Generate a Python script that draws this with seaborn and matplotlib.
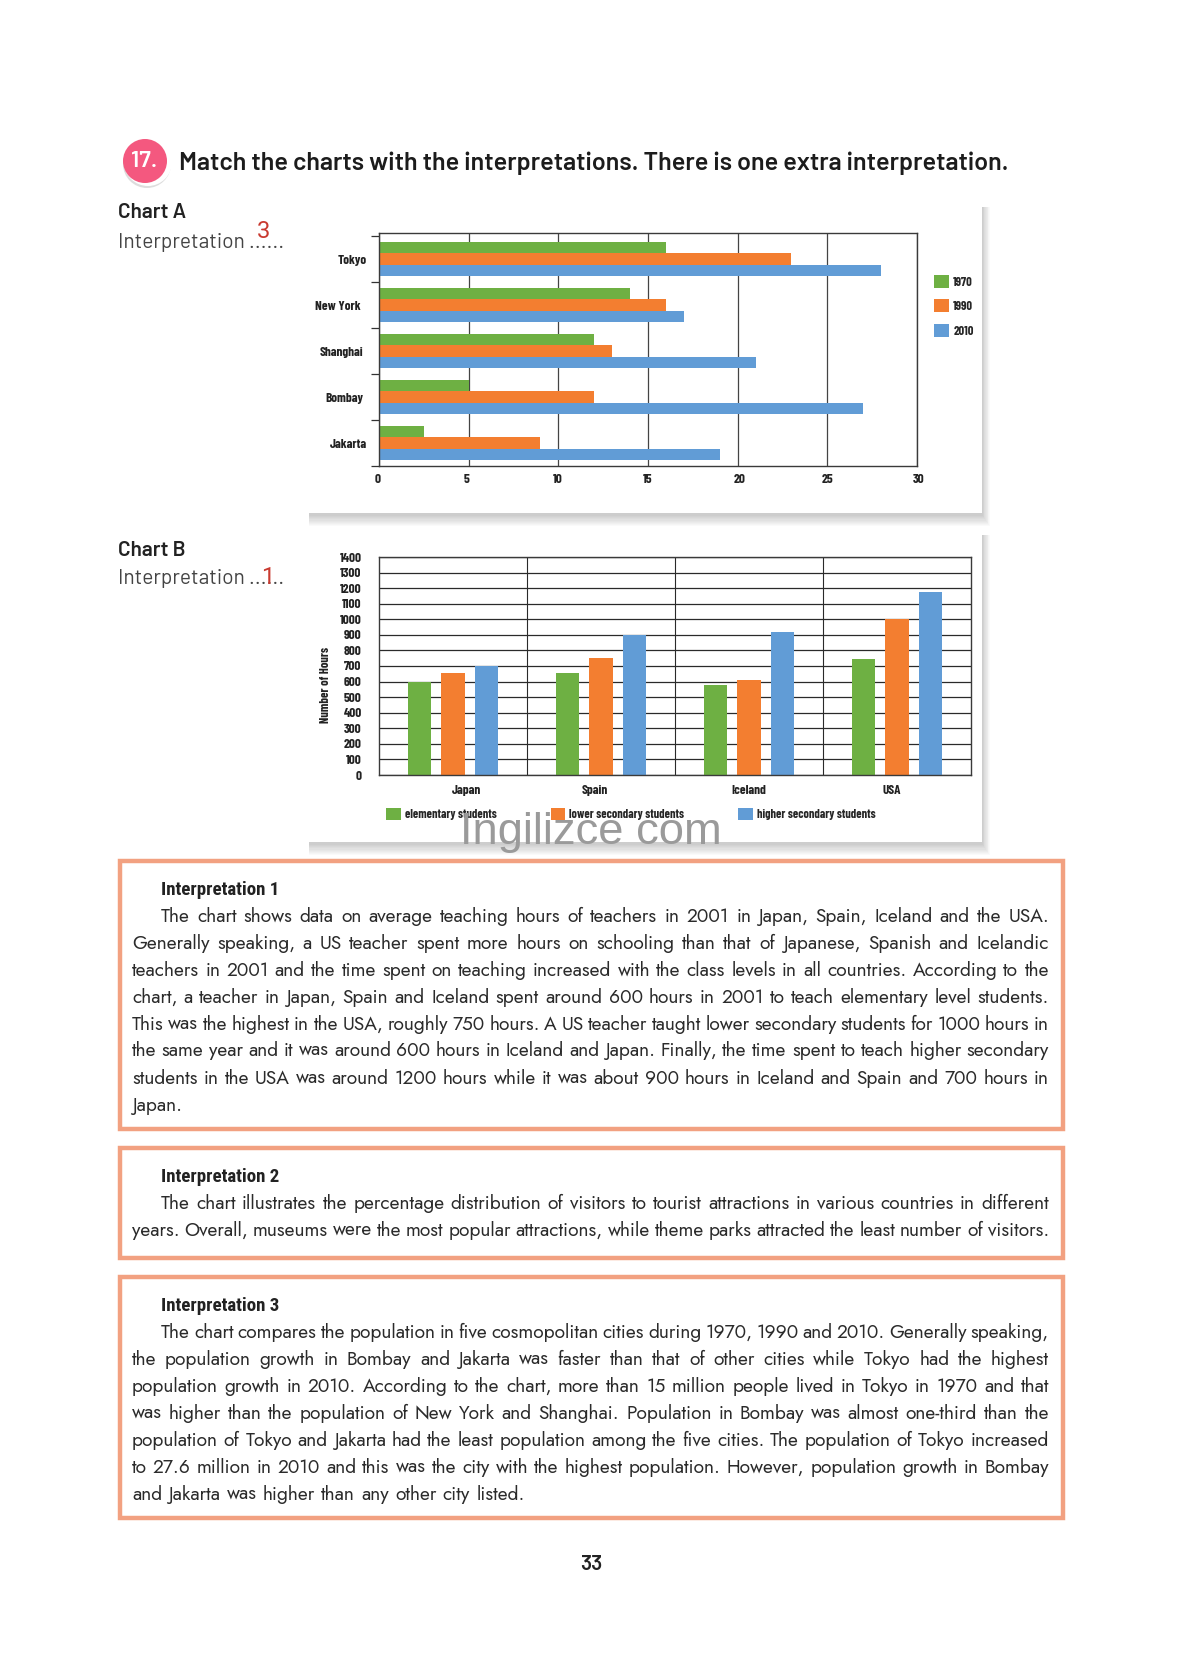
import matplotlib
matplotlib.use('Agg')
import matplotlib.pyplot as plt
import matplotlib.transforms as mtrans
from matplotlib.patches import Rectangle, Circle
import pandas as pd
import seaborn as sns

W, H = 1182, 1654

# --- datos de los graficos ---
ciudades = ['Tokyo', 'New York', 'Shanghai', 'Bombay', 'Jakarta']
anios = ['1970', '1990', '2010']
pob_1970 = [16, 14, 12, 5, 2.5]
pob_1990 = [23, 16, 13, 12, 9]
pob_2010 = [28, 17, 21, 27, 19]

paises = ['Japan', 'Spain', 'Iceland', 'USA']
niveles = ['elementary students', 'lower secondary students', 'higher secondary students']
horas_elem = [600, 655, 575, 745]
horas_lower = [655, 750, 610, 1000]
horas_higher = [700, 900, 920, 1175]

colores = ['#6EB043', '#F37E30', '#619CD6']

# --- textos de la pagina ---
titulo = 'Match the charts with the interpretations. There is one extra interpretation.'
texto_1 = [
    'The chart shows data on average teaching hours of teachers in 2001 in Japan, Spain, Iceland and the USA.',
    'Generally speaking, a US teacher spent more hours on schooling than that of Japanese, Spanish and Icelandic',
    'teachers in 2001 and the time spent on teaching increased with the class levels in all countries. According to the',
    'chart, a teacher in Japan, Spain and Iceland spent around 600 hours in 2001 to teach elementary level students.',
    'This was the highest in the USA, roughly 750 hours. A US teacher taught lower secondary students for 1000 hours in',
    'the same year and it was around 600 hours in Iceland and Japan. Finally, the time spent to teach higher secondary',
    'students in the USA was around 1200 hours while it was about 900 hours in Iceland and Spain and 700 hours in',
    'Japan.',
]
texto_2 = [
    'The chart illustrates the percentage distribution of visitors to tourist attractions in various countries in different',
    'years. Overall, museums were the most popular attractions, while theme parks attracted the least number of visitors.',
]
texto_3 = [
    'The chart compares the population in five cosmopolitan cities during 1970, 1990 and 2010. Generally speaking,',
    'the population growth in Bombay and Jakarta was faster than that of other cities while Tokyo had the highest',
    'population growth in 2010. According to the chart, more than 15 million people lived in Tokyo in 1970 and that',
    'was higher than the population of New York and Shanghai. Population in Bombay was almost one-third than the',
    'population of Tokyo and Jakarta had the least population among the five cities. The population of Tokyo increased',
    'to 27.6 million in 2010 and this was the city with the highest population. However, population growth in Bombay',
    'and Jakarta was higher than any other city listed.',
]

sns.set_style('white')
CONDENSADA = ['Barlow Condensed', 'Roboto', 'DejaVu Sans']
BARLOW = ['Barlow', 'Roboto', 'DejaVu Sans']
CABECERA = ['Roboto Condensed', 'Roboto', 'DejaVu Sans']
plt.rcParams['font.family'] = ['Jost', 'Lato', 'DejaVu Sans']

fig = plt.figure(figsize=(W / 100, H / 100), dpi=100, facecolor='white')
page = fig.add_axes([0, 0, 1, 1], zorder=-1)
page.set_xlim(0, W)
page.set_ylim(H, 0)
page.axis('off')
renderer = fig.canvas.get_renderer()


def ejes_px(x0, y0, x1, y1):
    return fig.add_axes([x0 / W, 1 - y1 / H, (x1 - x0) / W, (y1 - y0) / H])


def panel(x0, y0, x1, y1):
    # sombra suave abajo a la derecha
    for i in range(10):
        d = 10 - i
        page.add_patch(Rectangle((x0 + 1, y0 + 2), x1 - x0 + d * 0.8 - 1, y1 - y0 + d * 1.1,
                                 color='#000000', alpha=0.02, lw=0))
    page.add_patch(Rectangle((x0, y0), x1 - x0, y1 - y0, color='white', lw=0))


def parrafo(lineas, ys, x_izq=132, x_der=1049, sangria=161, size=13.8):
    for n, (linea, y) in enumerate(zip(lineas, ys)):
        x = sangria if n == 0 else x_izq
        palabras = linea.split(' ')
        items = [page.text(x, y + 6, p, fontsize=size, color='#2b2b2b', va='baseline', ha='left')
                 for p in palabras]
        anchos = [t.get_window_extent(renderer).width for t in items]
        # la ultima linea solo se justifica si ya llega casi al margen
        if n < len(lineas) - 1 or sum(anchos) > 0.8 * (x_der - x):
            hueco = (x_der - x - sum(anchos)) / (len(palabras) - 1)
        else:
            hueco = size * 0.45
        for t, a in zip(items, anchos):
            t.set_x(x)
            x += a + hueco


def caja(y0, y1, nombre, y_nombre, lineas, ys):
    page.add_patch(Rectangle((120, y0), 943, y1 - y0, fill=False, ec='#F2A181', lw=3.2))
    page.text(161, y_nombre, nombre, fontsize=13.6, fontweight='bold', family=CABECERA,
              color='#222222', va='center')
    parrafo(lineas, ys)


def mover(etiquetas, dx):
    for t, d in zip(etiquetas, dx):
        t.set_transform(t.get_transform() + mtrans.ScaledTranslation(d / 100, 0, fig.dpi_scale_trans))


# --- Encabezado ---
page.add_patch(Circle((147, 164), 24, color='#DDDDDD', lw=0))
page.add_patch(Circle((148, 162), 24, color='white', lw=0))
page.add_patch(Circle((145, 161), 22, color='#F4587F', lw=0))
page.text(144, 161, '17.', fontsize=17, fontweight='semibold', family=BARLOW, color='white',
          ha='center', va='center')
page.text(179, 163, titulo, fontsize=18.1, fontweight='semibold', family=BARLOW,
          color='#1c1c1c', va='center')

for nombre, num, y, xn, yn in [('Chart A', '3', 213, 263, 231), ('Chart B', '1', 550, 268, 577)]:
    page.text(118, y, nombre, fontsize=15, fontweight='semibold', family=BARLOW,
              color='#222222', va='center')
    page.text(118, y + 29, 'Interpretation ......', fontsize=15, family=BARLOW,
              color='#444444', va='center')
    page.text(xn, yn, num, fontsize=17, family=['Roboto'], color='#C93A30',
              ha='center', va='center')

panel(308, 205, 982, 513)
panel(308, 533, 982, 842)

# --- Grafico A ---
df_a = pd.DataFrame({'ciudad': ciudades * 3,
                     'anio': sum([[a] * len(ciudades) for a in anios], []),
                     'valor': pob_1970 + pob_1990 + pob_2010})
ax_a = ejes_px(379, 233, 917, 466)
ax_a.patch.set_alpha(0)
sns.barplot(data=df_a, y='ciudad', x='valor', hue='anio', order=ciudades, hue_order=anios,
            palette=colores, width=0.75, saturation=1, linewidth=0, ax=ax_a)
ax_a.set_xlim(0, 30)
ax_a.set_ylim(4.43, -0.569)
ax_a.set_xlabel('')
ax_a.set_ylabel('')
ax_a.set_axisbelow(True)
ax_a.grid(True, axis='x', color='#444444', lw=0.9)
ax_a.set_yticks([i - 0.5 for i in range(6)], minor=True)
ax_a.tick_params(axis='y', which='minor', left=True, length=5.8, width=0.9, color='#333333')
ax_a.tick_params(axis='y', which='major', left=False, pad=7, labelsize=9.5)
ax_a.tick_params(axis='x', bottom=False, pad=2, labelsize=9.5)
for t in ax_a.get_xticklabels() + ax_a.get_yticklabels():
    t.set_family(CONDENSADA)
    t.set_fontweight('bold')
    t.set_color('#222222')
mover(ax_a.get_yticklabels(), [2, -4, -1, -1, 3])
mover(ax_a.get_xticklabels(), [-1, -2, -1, 0, 2, 0, 2])
for s in ax_a.spines.values():
    s.set_color('#3a3a3a')
    s.set_linewidth(1.0)
sns.move_legend(ax_a, 'upper left', bbox_to_anchor=(1.004, 0.884), title=None, frameon=False,
                prop={'family': CONDENSADA, 'weight': 'bold', 'size': 9},
                handlelength=1.2, handleheight=1.2, labelspacing=0.93, handletextpad=0.33, borderpad=0.3,
                borderaxespad=0.9)

# --- Grafico B ---
df_b = pd.DataFrame({'pais': paises * 3,
                     'nivel': sum([[n] * len(paises) for n in niveles], []),
                     'horas': horas_elem + horas_lower + horas_higher})
ax_b = ejes_px(379, 557, 971, 775)
ax_b.patch.set_alpha(0)
sns.barplot(data=df_b, x='pais', y='horas', hue='nivel', order=paises, hue_order=niveles,
            palette=colores, width=0.683, gap=0.3, saturation=1, linewidth=0, ax=ax_b)
ax_b.set_ylim(0, 1400)
ax_b.set_xlim(-0.5, 3.5)
ax_b.set_yticks(range(0, 1500, 100))
ax_b.set_xticks([i + 0.5 for i in range(3)], minor=True)
ax_b.set_axisbelow(True)
ax_b.grid(True, axis='y', color='#2a2a2a', lw=0.9)
ax_b.grid(True, axis='x', which='minor', color='#2a2a2a', lw=0.8)
ax_b.grid(False, axis='x', which='major')
ax_b.set_xlabel('')
ax_b.set_ylabel('Number of Hours', fontsize=9, fontweight='bold', family=CONDENSADA, color='#222222')
ax_b.yaxis.set_label_coords((331 - 379) / 592, 0.415)
ax_b.tick_params(axis='both', which='both', length=0)
ax_b.tick_params(axis='y', pad=12.5, labelsize=9.5)
ax_b.tick_params(axis='x', pad=7, labelsize=9.5)
for t in ax_b.get_xticklabels() + ax_b.get_yticklabels():
    t.set_family(CONDENSADA)
    t.set_fontweight('bold')
    t.set_color('#222222')
mover(ax_b.get_xticklabels(), [13, -6, 0, -5])
for s in ax_b.spines.values():
    s.set_color('#3a3a3a')
    s.set_linewidth(1.0)
sns.move_legend(ax_b, 'upper left', bbox_to_anchor=(0.0, -0.116), title=None, frameon=False, ncols=3,
                prop={'family': CONDENSADA, 'weight': 'bold', 'size': 8.8},
                handlelength=1.2, handleheight=1.2, handletextpad=0.33, columnspacing=4.4,
                borderpad=0.2, borderaxespad=0.4)

fig.text(591 / W, 1 - 833 / H, 'Ingilizce com', fontsize=32.7, color='#9a9a9a', ha='center', va='center',
         family=['Liberation Sans'], zorder=5)

# --- Cajas de interpretacion ---
caja(861, 1129, 'Interpretation 1', 890, texto_1, [916, 943, 970, 997, 1024, 1050, 1078, 1105])
caja(1148, 1258, 'Interpretation 2', 1177, texto_2, [1203, 1230])
caja(1277, 1518, 'Interpretation 3', 1306, texto_3, [1332, 1359, 1386, 1413, 1440, 1467, 1494])

page.text(591, 1565, '33', fontsize=15, fontweight='semibold', family=BARLOW, color='#222222',
          ha='center', va='center')

fig.savefig('out.png', dpi=100)
